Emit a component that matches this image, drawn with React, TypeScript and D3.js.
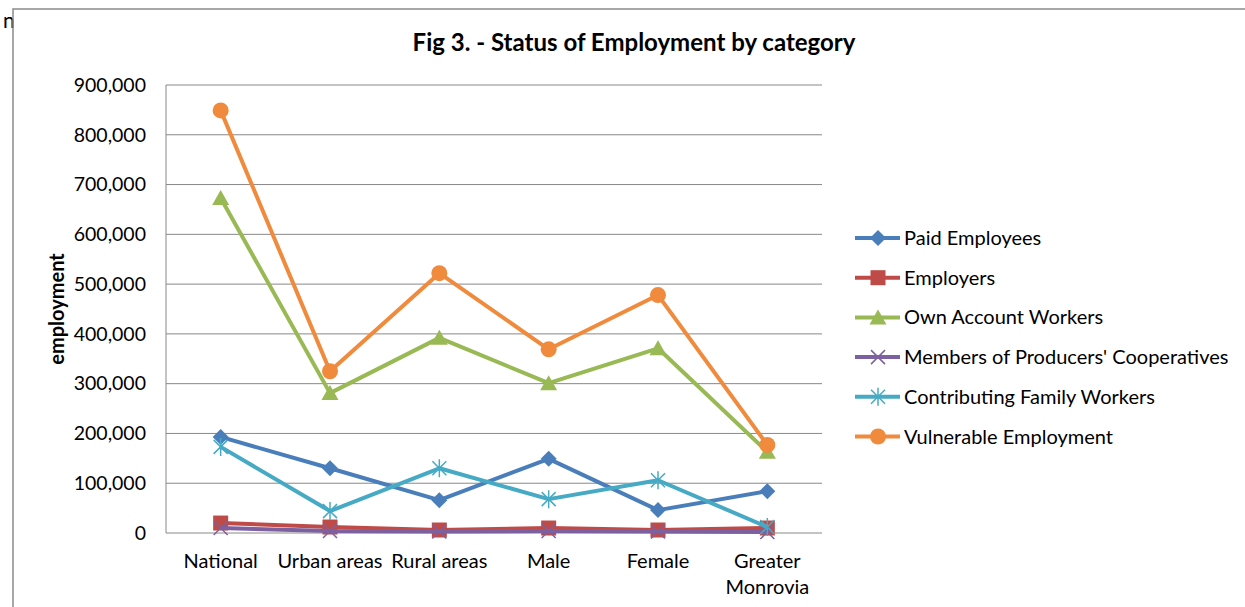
import { useEffect, useRef } from 'react';
import * as d3 from 'd3';

const categories = ['National', 'Urban areas', 'Rural areas', 'Male', 'Female', 'Greater Monrovia'];
const paidEmployees = [193000, 130000, 66000, 149000, 46000, 84000];
const employers = [20000, 12000, 6000, 10000, 6000, 10000];
const ownAccount = [673000, 281000, 392000, 301000, 371000, 163000];
const cooperatives = [10000, 4000, 3000, 4000, 3000, 2000];
const familyWorkers = [173000, 44000, 130000, 68000, 106000, 12000];
const vulnerable = [849000, 325000, 522000, 369000, 478000, 177000];
const yTicks = [0, 100000, 200000, 300000, 400000, 500000, 600000, 700000, 800000, 900000];

const series = [
  { name: 'Paid Employees', values: paidEmployees, color: '#4A7EBB', marker: 'diamond' },
  { name: 'Employers', values: employers, color: '#BE4B48', marker: 'square' },
  { name: 'Own Account Workers', values: ownAccount, color: '#98B954', marker: 'triangle' },
  { name: "Members of Producers' Cooperatives", values: cooperatives, color: '#7D60A0', marker: 'x' },
  { name: 'Contributing Family Workers', values: familyWorkers, color: '#46AAC5', marker: 'star' },
  { name: 'Vulnerable Employment', values: vulnerable, color: '#F08A3C', marker: 'circle' },
];

const FONT = 'Lato, "Open Sans", sans-serif';

const App = () => {
  const svgRef = useRef<SVGSVGElement>(null);

  useEffect(() => {
    const width = 1245;
    const height = 607;
    const margin = { top: 85, left: 166, right: 423, bottom: 74 };

    const svg = d3.select(svgRef.current);
    svg.selectAll('*').remove();

    svg.append('text')
      .attr('x', 3)
      .attr('y', 28)
      .style('font-family', FONT)
      .style('font-size', '21px')
      .text('n');

    // outer frame
    svg.append('path')
      .attr('d', `M13,${height} L13,9 L${width},9`)
      .attr('fill', 'none')
      .attr('stroke', '#8a8a8a')
      .attr('stroke-width', 1.5);

    const x = d3.scaleBand()
      .domain(categories)
      .range([margin.left, width - margin.right]);

    const y = d3.scaleLinear()
      .domain([0, 900000])
      .range([height - margin.bottom, margin.top]);

    // gridlines
    svg.append('g')
      .selectAll('line')
      .data(yTicks)
      .enter()
      .append('line')
      .attr('x1', margin.left)
      .attr('x2', width - margin.right)
      .attr('y1', d => y(d))
      .attr('y2', d => y(d))
      .attr('stroke', '#888888')
      .attr('stroke-width', 1);

    svg.append('line')
      .attr('x1', margin.left)
      .attr('x2', margin.left)
      .attr('y1', y(0))
      .attr('y2', y(900000))
      .attr('stroke', '#888888')
      .attr('stroke-width', 1);

    // y tick labels
    svg.append('g')
      .selectAll('text')
      .data(yTicks)
      .enter()
      .append('text')
      .attr('x', 146)
      .attr('y', d => y(d))
      .attr('dy', '0.35em')
      .attr('text-anchor', 'end')
      .style('font-family', FONT)
      .style('font-size', '19.5px')
      .text(d => d3.format(',')(d));

    // x labels
    const xLabels = svg.append('g');
    categories.forEach(c => {
      const cx = (x(c) ?? 0) + x.bandwidth() / 2;
      const words = c === 'Greater Monrovia' ? ['Greater', 'Monrovia'] : [c];
      words.forEach((w, i) => {
        xLabels.append('text')
          .attr('x', cx)
          .attr('y', 568 + i * 26)
          .attr('text-anchor', 'middle')
          .style('font-family', FONT)
          .style('font-size', '20px')
          .text(w);
      });
    });

    // title
    svg.append('text')
      .attr('x', 634)
      .attr('y', 51)
      .attr('text-anchor', 'middle')
      .style('font-family', FONT)
      .style('font-size', '24px')
      .style('font-weight', 'bold')
      .text('Fig 3. - Status of Employment by category');

    svg.append('text')
      .attr('transform', `translate(64,${(y(0) + y(900000)) / 2}) rotate(-90)`)
      .attr('text-anchor', 'middle')
      .style('font-family', FONT)
      .style('font-size', '20px')
      .style('font-weight', 'bold')
      .text('employment');

    const drawMarker = (g: any, type: string, color: string, cx: number, cy: number) => {
      if (type === 'diamond') {
        g.append('path').attr('d', `M${cx},${cy - 8} L${cx + 8},${cy} L${cx},${cy + 8} L${cx - 8},${cy} Z`).attr('fill', color);
      } else if (type === 'square') {
        g.append('rect').attr('x', cx - 7.5).attr('y', cy - 7.5).attr('width', 15).attr('height', 15).attr('fill', color);
      } else if (type === 'triangle') {
        g.append('path').attr('d', `M${cx},${cy - 8} L${cx + 8.5},${cy + 7} L${cx - 8.5},${cy + 7} Z`).attr('fill', color);
      } else if (type === 'circle') {
        g.append('circle').attr('cx', cx).attr('cy', cy).attr('r', 8).attr('fill', color);
      } else if (type === 'x') {
        g.append('path').attr('d', `M${cx - 7},${cy - 7} L${cx + 7},${cy + 7} M${cx - 7},${cy + 7} L${cx + 7},${cy - 7}`)
          .attr('stroke', color).attr('stroke-width', 1.5);
      } else if (type === 'star') {
        g.append('path').attr('d', `M${cx - 7},${cy - 7} L${cx + 7},${cy + 7} M${cx - 7},${cy + 7} L${cx + 7},${cy - 7} M${cx},${cy - 9} L${cx},${cy + 9}`)
          .attr('stroke', color).attr('stroke-width', 1.5);
      }
    };

    const line = d3.line<number>()
      .x((_, i) => (x(categories[i]) ?? 0) + x.bandwidth() / 2)
      .y(d => y(d));

    series.forEach(s => {
      const g = svg.append('g');
      g.append('path')
        .datum(s.values)
        .attr('d', line)
        .attr('fill', 'none')
        .attr('stroke', s.color)
        .attr('stroke-width', 4)
        .attr('stroke-linejoin', 'round');
      s.values.forEach((v, i) => {
        drawMarker(g, s.marker, s.color, (x(categories[i]) ?? 0) + x.bandwidth() / 2, y(v));
      });
    });

    // legend
    const legend = svg.append('g');
    series.forEach((s, i) => {
      const ly = 238 + i * 39.7;
      legend.append('line')
        .attr('x1', 855).attr('x2', 900)
        .attr('y1', ly).attr('y2', ly)
        .attr('stroke', s.color)
        .attr('stroke-width', 4);
      drawMarker(legend, s.marker, s.color, 878, ly);
      legend.append('text')
        .attr('x', 904)
        .attr('y', ly)
        .attr('dy', '0.35em')
        .style('font-family', FONT)
        .style('font-size', '20px')
        .text(s.name);
    });
  }, []);

  return (
    <svg
      ref={svgRef}
      width={1245}
      height={607}
      style={{ position: 'absolute', left: 0, top: 0, background: '#fff' }}
    />
  );
};

export default App;
